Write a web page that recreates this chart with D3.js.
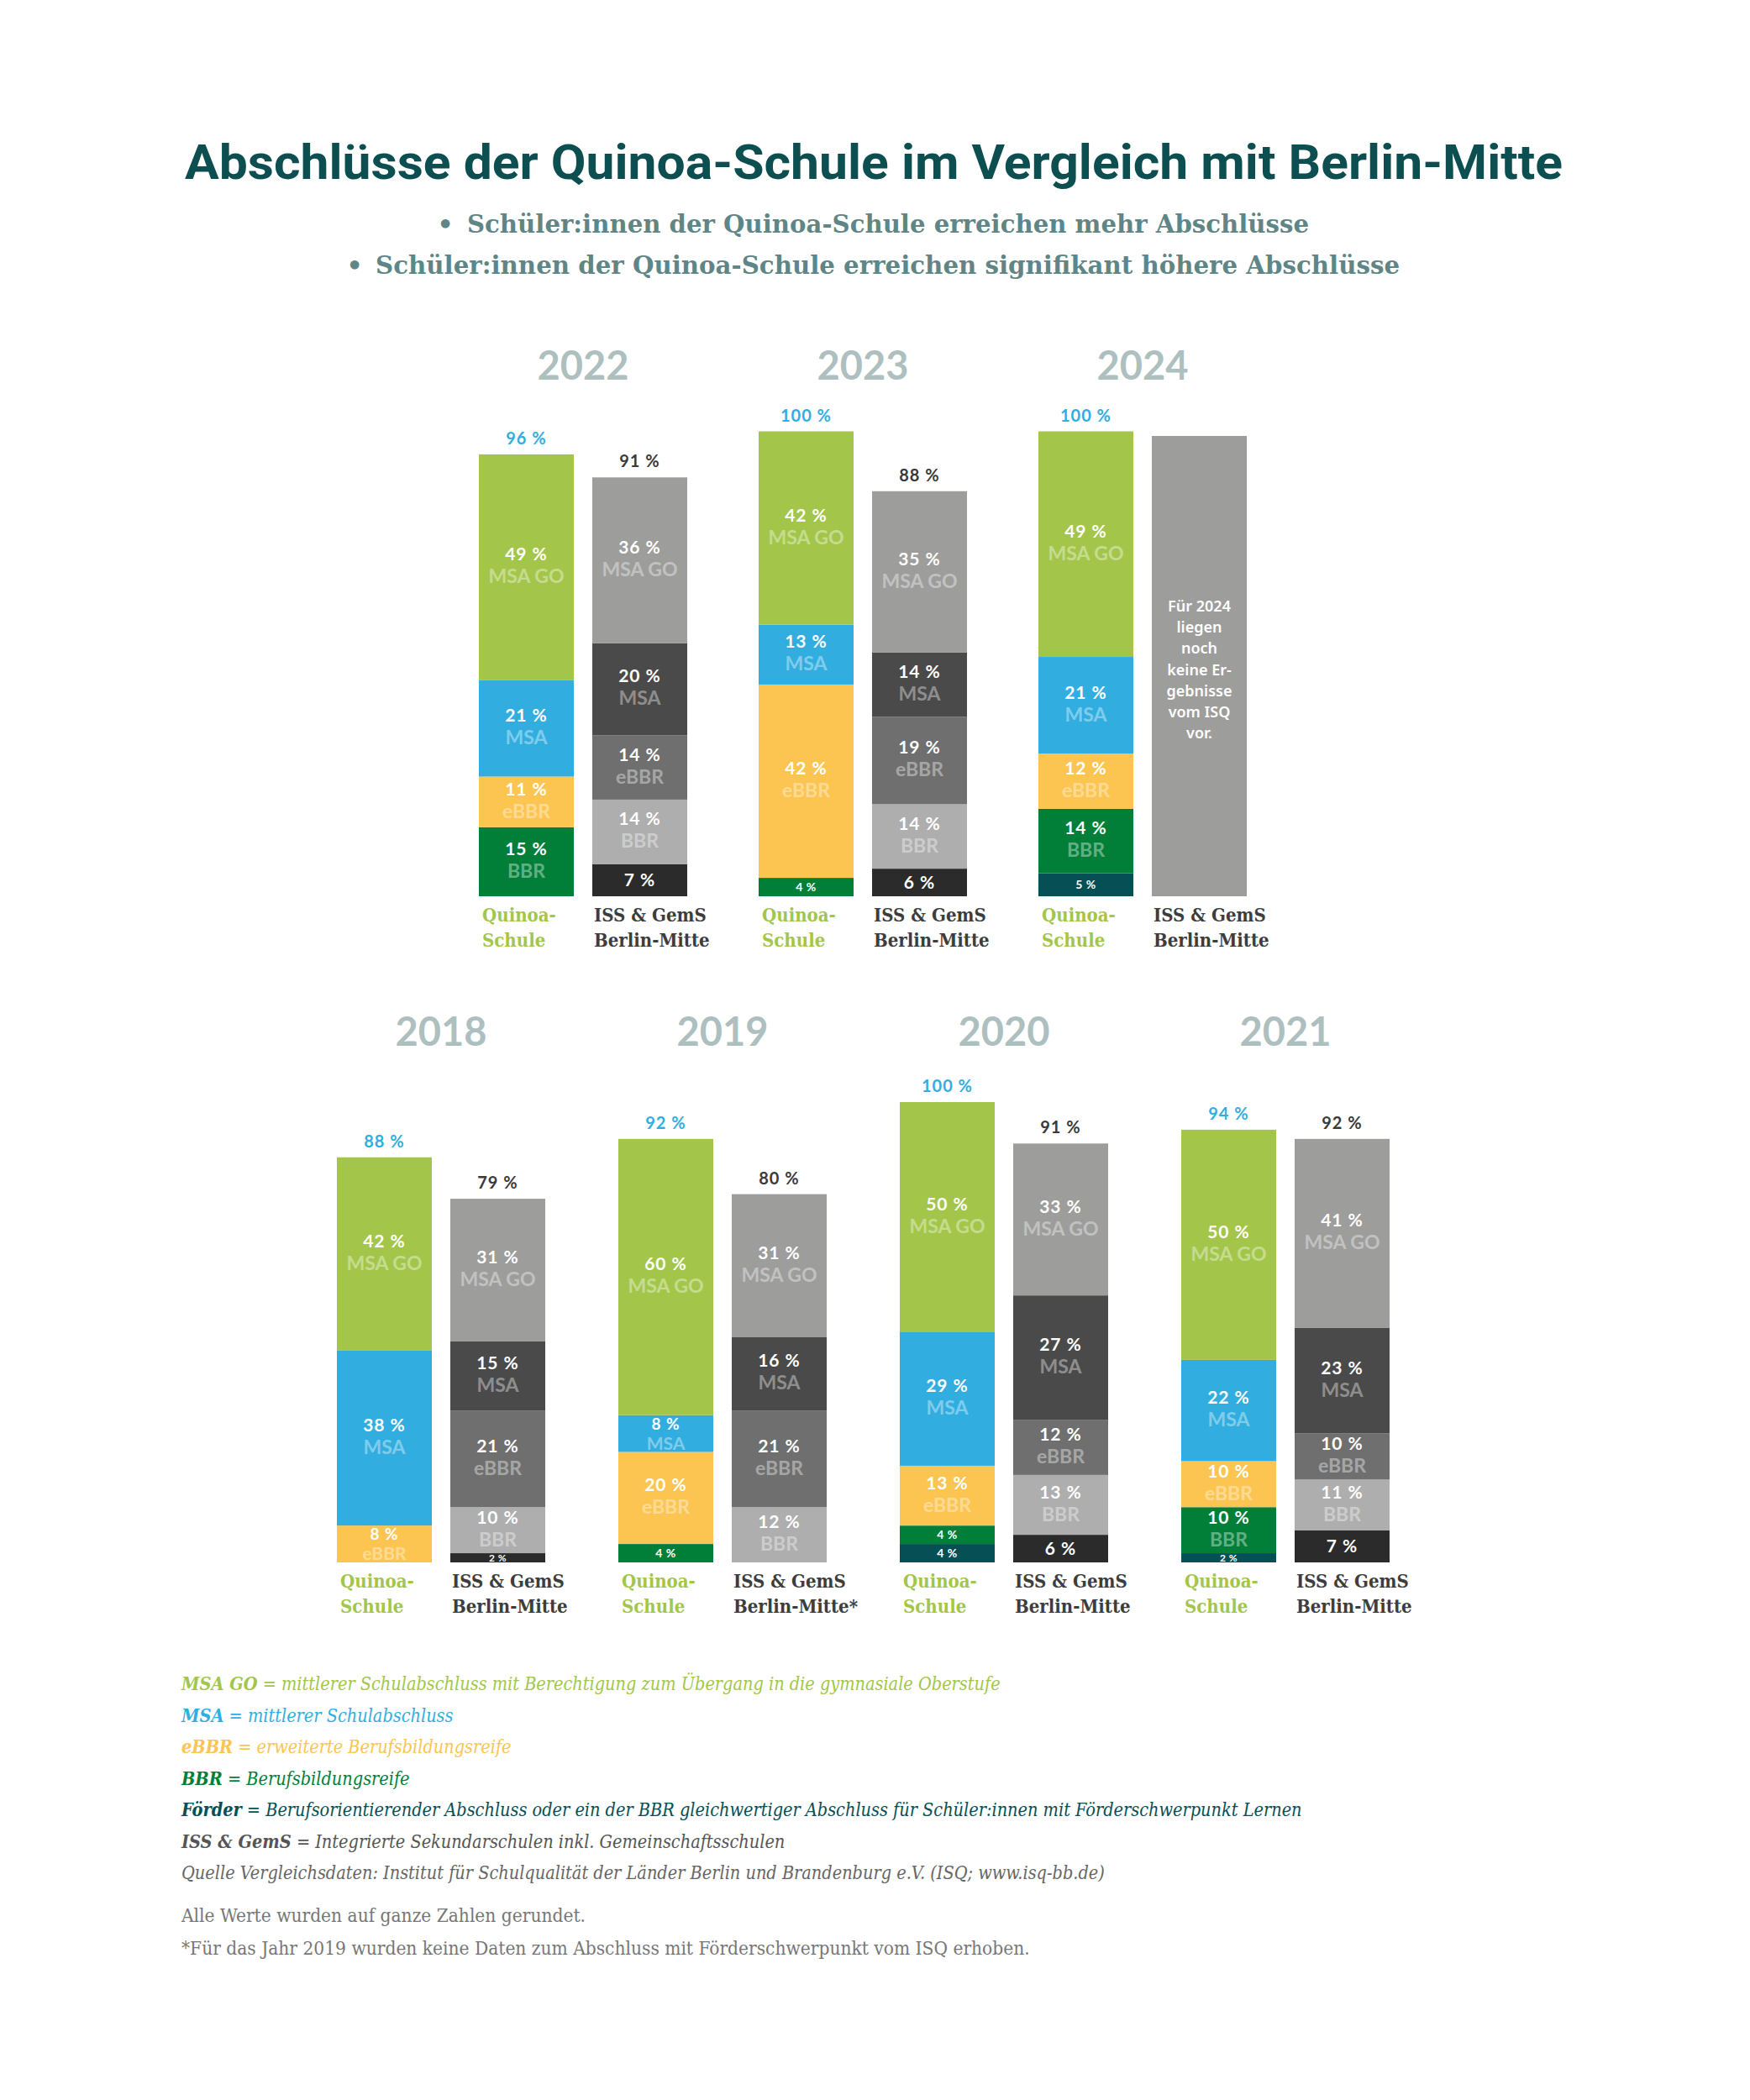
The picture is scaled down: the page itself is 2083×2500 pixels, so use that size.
<!DOCTYPE html>
<html><head><meta charset="utf-8">
<script src="https://cdn.jsdelivr.net/npm/d3@7"></script>
<style>
html,body{margin:0;padding:0;background:#fff;}
svg{display:block;}
</style></head>
<body>
<svg id="chart" width="2083" height="2500"></svg>
<script>
// ---------------- DATA ----------------
const years = ["2018","2019","2020","2021","2022","2023","2024"];
const topRowYears = ["2022","2023","2024"];
const bottomRowYears = ["2018","2019","2020","2021"];
const categories = ["MSA GO","MSA","eBBR","BBR","Förder"];
const schools = ["Quinoa","ISS"];

const quinoaMSAGO   = [42,60,50,50,49,42,49];
const quinoaMSA     = [38, 8,29,22,21,13,21];
const quinoaEBBR    = [ 8,20,13,10,11,42,12];
const quinoaBBR     = [ 0, 4, 4,10,15, 4,14];
const quinoaFoerder = [ 0, 0, 4, 2, 0, 0, 5];
const quinoaTotal   = [88,92,100,94,96,100,100];

const issMSAGO   = [31,31,33,41,36,35,null];
const issMSA     = [15,16,27,23,20,14,null];
const issEBBR    = [21,21,12,10,14,19,null];
const issBBR     = [10,12,13,11,14,14,null];
const issFoerder = [ 2, 0, 6, 7, 7, 6,null];
const issTotal   = [79,80,91,92,91,88,null];

const quinoaLabelLines = ["Quinoa-","Schule"];
const issLabelLines = ["ISS & GemS","Berlin-Mitte"];
const issLabelLines2019 = ["ISS & GemS","Berlin-Mitte*"];
const noDataLines = ["Für 2024","liegen","noch","keine Er-","gebnisse","vom ISQ","vor."];

const titleText = "Abschlüsse der Quinoa-Schule im Vergleich mit Berlin-Mitte";
const bulletTexts = ["Schüler:innen der Quinoa-Schule erreichen mehr Abschlüsse",
                     "Schüler:innen der Quinoa-Schule erreichen signifikant höhere Abschlüsse"];
const legendTerms = ["MSA GO","MSA","eBBR","BBR","Förder","ISS & GemS"];
const legendDefs = [
  " = mittlerer Schulabschluss mit Berechtigung zum Übergang in die gymnasiale Oberstufe",
  " = mittlerer Schulabschluss",
  " = erweiterte Berufsbildungsreife",
  " = Berufsbildungsreife",
  " = Berufsorientierender Abschluss oder ein der BBR gleichwertiger Abschluss für Schüler:innen mit Förderschwerpunkt Lernen",
  " = Integrierte Sekundarschulen inkl. Gemeinschaftsschulen"
];
const sourceText = "Quelle Vergleichsdaten: Institut für Schulqualität der Länder Berlin und Brandenburg e.V. (ISQ; www.isq-bb.de)";
const noteTexts = ["Alle Werte wurden auf ganze Zahlen gerundet.",
                   "*Für das Jahr 2019 wurden keine Daten zum Abschluss mit Förderschwerpunkt vom ISQ erhoben."];

// ---------------- STYLE ----------------
const quinoaColors = {"MSA GO":"#a3c64a","MSA":"#31aedf","eBBR":"#fcc551","BBR":"#017f39","Förder":"#064f55"};
const issColors = {"MSA GO":"#9d9d9c","MSA":"#4a4a4a","eBBR":"#6f6f6f","BBR":"#aeaeae","Förder":"#2b2b2b"};
const legendColors = ["#a3c64a","#31aedf","#fcc551","#017f39","#064f55","#555555"];
const sansFont = "Lato, 'Open Sans', sans-serif";
const slabFont = "'DejaVu Serif', serif";

const svg = d3.select("#chart");

// Title
svg.append("text")
  .attr("x", 1040).attr("y", 213)
  .attr("text-anchor","middle")
  .attr("font-family","Roboto, sans-serif").attr("font-weight",700)
  .attr("font-size",57).attr("fill","#0d4f51")
  .attr("textLength",1640).attr("lengthAdjust","spacingAndGlyphs")
  .text(titleText);

// Bullets
const bulletLayout = [{bx:530, tx:556, len:1002, y:277}, {bx:422, tx:447, len:1219, y:326}];
bulletTexts.forEach((t,k) => {
  const L = bulletLayout[k];
  svg.append("text").attr("x",L.bx).attr("y",L.y).attr("text-anchor","middle")
    .attr("font-family",slabFont).attr("font-weight",700)
    .attr("font-size",30).attr("fill","#5f8686").text("•");
  svg.append("text").attr("x",L.tx).attr("y",L.y)
    .attr("font-family",slabFont).attr("font-weight",700)
    .attr("font-size",30).attr("font-stretch","condensed").attr("fill","#5f8686")
    .attr("textLength",L.len).attr("lengthAdjust","spacingAndGlyphs")
    .text(t);
});

// Bars
const pxPerPct = 5.48;
const rows = [
  {yrs: topRowYears, x0: 570, step: 333, base: 1067, yearY: 452},
  {yrs: bottomRowYears, x0: 401, step: 335, base: 1860, yearY: 1245}
];

let clipId = 0;
rows.forEach(row => {
  const gx = d3.scaleBand().domain(row.yrs)
    .range([row.x0, row.x0 + row.step*row.yrs.length]).padding(0);
  const sx = d3.scaleBand().domain(schools).range([0,248]).paddingInner(0.163).paddingOuter(0);
  const y = d3.scaleLinear().domain([0,100]).range([row.base, row.base - 100*pxPerPct]);

  row.yrs.forEach(yr => {
    const i = years.indexOf(yr);
    const g = svg.append("g").attr("transform",`translate(${gx(yr)},0)`);
    g.append("text")
      .attr("x",124).attr("y",row.yearY)
      .attr("text-anchor","middle")
      .attr("font-family",sansFont).attr("font-weight",700)
      .attr("font-size",47).attr("fill","#aebfbf")
      .text(yr);

    schools.forEach(s => {
      const isQ = s === "Quinoa";
      const vals = isQ
        ? [quinoaMSAGO[i],quinoaMSA[i],quinoaEBBR[i],quinoaBBR[i],quinoaFoerder[i]]
        : [issMSAGO[i],issMSA[i],issEBBR[i],issBBR[i],issFoerder[i]];
      const total = isQ ? quinoaTotal[i] : issTotal[i];
      const colors = isQ ? quinoaColors : issColors;
      const bx = sx(s), bw = sx.bandwidth(), cx = bx + bw/2;

      // label below
      const lines = isQ ? quinoaLabelLines : (yr === "2019" ? issLabelLines2019 : issLabelLines);
      lines.forEach((ln,k) => {
        g.append("text")
          .attr("x", bx + (isQ ? 4 : 2)).attr("y", row.base + 30 + k*30)
          .attr("font-family",slabFont).attr("font-weight",700)
          .attr("font-size",22).attr("font-stretch","condensed")
          .attr("fill", isQ ? "#a3c64a" : "#3d3d3d")
          .text(ln);
      });

      if (vals.every(v => v === null)) {
        g.append("rect").attr("x",bx).attr("width",bw)
          .attr("y",y(100)).attr("height",y(0)-y(100))
          .attr("fill","#9d9d9c");
        noDataLines.forEach((ln,k) => {
          g.append("text").attr("x",cx).attr("y", 728 + k*25.2)
            .attr("text-anchor","middle")
            .attr("font-family","'Noto Sans', sans-serif").attr("font-weight",600)
            .attr("font-size",18).attr("fill","#ffffff")
            .text(ln);
        });
        return;
      }

      const sum = d3.sum(vals);
      const cid = "clip" + (clipId++);
      g.append("clipPath").attr("id",cid).append("rect")
        .attr("x",bx).attr("width",bw).attr("y",y(sum)).attr("height",y(0)-y(sum));
      const bar = g.append("g");
      const lab = g.append("g").attr("clip-path",`url(#${cid})`);

      let cum = 0;
      for (let c = categories.length-1; c >= 0; c--) {
        const v = vals[c];
        if (!v) continue;
        const cat = categories[c];
        const y1 = y(cum + v), y0 = y(cum);
        bar.append("rect").attr("x",bx).attr("width",bw)
          .attr("y",y1).attr("height",y0-y1)
          .attr("fill",colors[cat]);
        const mid = (y0 + y1)/2;
        const h = y0 - y1;
        if (cat === "Förder" || v < 6) {
          const fs = v <= 2 ? 12 : (v <= 5 ? 14 : 21);
          lab.append("text").attr("x",cx).attr("y", mid + fs*0.36)
            .attr("text-anchor","middle")
            .attr("font-family",sansFont).attr("font-weight",700)
            .attr("font-size",fs).attr("letter-spacing", fs > 14 ? 1 : 0.5)
            .attr("fill","#ffffff")
            .text(v + " %");
        } else {
          const small = h < 50;
          lab.append("text").attr("x",cx).attr("y", small ? mid - 5 : mid - 8)
            .attr("text-anchor","middle")
            .attr("font-family",sansFont).attr("font-weight",700)
            .attr("font-size",small ? 19 : 21).attr("letter-spacing",1)
            .attr("fill","#ffffff")
            .text(v + " %");
          lab.append("text").attr("x",cx).attr("y", mid + 19)
            .attr("text-anchor","middle")
            .attr("font-family",sansFont).attr("font-weight",700)
            .attr("font-size",small ? 21 : 23)
            .attr("fill","#ffffff").attr("fill-opacity",0.4)
            .text(cat);
        }
        cum += v;
      }

      g.append("text").attr("x",cx).attr("y", y(sum) - 12)
        .attr("text-anchor","middle")
        .attr("font-family",sansFont).attr("font-weight",700)
        .attr("font-size",20).attr("letter-spacing",1)
        .attr("fill", isQ ? "#31aedf" : "#3a3a3a")
        .text(total + " %");
    });
  });
});

// Legend
const legX = 216;
legendTerms.forEach((term,k) => {
  const t = svg.append("text").attr("x",legX).attr("y", 2012 + k*37.6)
    .attr("font-family",slabFont).attr("font-style","italic")
    .attr("font-size",21.5).attr("font-stretch","condensed")
    .attr("fill",legendColors[k]);
  t.append("tspan").attr("font-weight",700).text(term);
  t.append("tspan").text(legendDefs[k]);
});
svg.append("text").attr("x",legX).attr("y",2237)
  .attr("font-family",slabFont).attr("font-style","italic")
  .attr("font-size",21.5).attr("font-stretch","condensed")
  .attr("fill","#666666").text(sourceText);
noteTexts.forEach((t,k) => {
  svg.append("text").attr("x",legX).attr("y",2288 + k*38.5)
    .attr("font-family",slabFont)
    .attr("font-size",22.5).attr("font-stretch","condensed")
    .attr("fill","#777777").text(t);
});
</script>
</body></html>
